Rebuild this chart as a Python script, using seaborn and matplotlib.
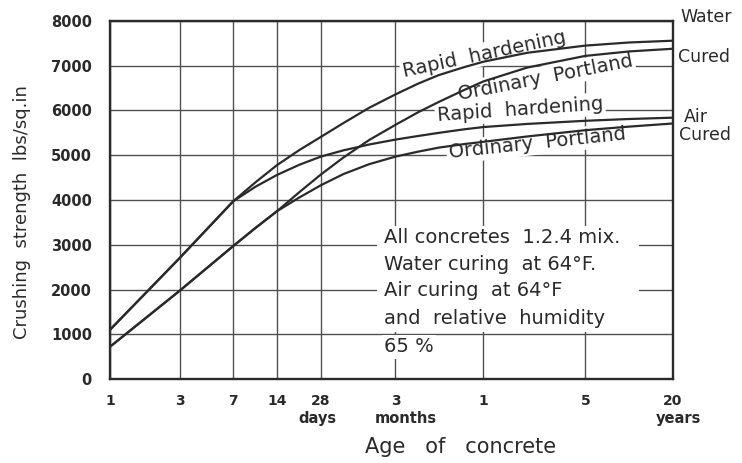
import matplotlib
matplotlib.use('Agg')
import matplotlib.pyplot as plt
import matplotlib.transforms as mtransforms
from matplotlib.patches import Rectangle
from matplotlib.ticker import NullLocator
import seaborn as sns

# age in days (1 day ... 20 years) and crushing strength in lbs/sq.in
days = [1, 3, 7, 10, 14, 20, 28, 40, 60, 91, 130, 180, 270, 365, 730, 1825, 3650, 7300]
water_rapid = [1100, 2700, 3970, 4400, 4780, 5120, 5410, 5720, 6060, 6360, 6600, 6790,
               6970, 7090, 7290, 7450, 7520, 7560]
water_ordinary = [720, 1970, 2970, 3380, 3750, 4180, 4570, 4950, 5340, 5680, 5960, 6190,
                  6460, 6650, 6960, 7220, 7320, 7380]
air_rapid = [1100, 2700, 3970, 4300, 4560, 4790, 4970, 5110, 5240, 5350, 5430, 5500,
             5580, 5630, 5700, 5770, 5810, 5840]
air_ordinary = [720, 1970, 2970, 3380, 3750, 4060, 4330, 4580, 4800, 4970, 5080, 5170,
                5250, 5300, 5420, 5560, 5640, 5710]

tick_days = [1, 3, 7, 14, 28, 91, 365, 1825, 7300]
tick_labels = ['1', '3', '7', '14', '28', '3', '1', '5', '20']
strength_ticks = [0, 1000, 2000, 3000, 4000, 5000, 6000, 7000, 8000]

notes = ['All concretes  1.2.4 mix.', 'Water curing  at 64°F.', 'Air curing  at 64°F',
         'and  relative  humidity', '65 %']

ink = '#2a2a2a'
grid_ink = '#505050'

sns.set_theme(style='white')
plt.rcParams['font.family'] = ['DejaVu Sans']

fig = plt.figure(figsize=(7.42, 4.63), dpi=100)
ax = fig.add_axes([110 / 742, 84 / 463, 563 / 742, 358 / 463])

for values in [water_rapid, water_ordinary, air_rapid, air_ordinary]:
    sns.lineplot(x=days, y=values, ax=ax, color=ink, linewidth=1.6, zorder=3)

ax.set_xscale('log')
ax.set_xlim(1, 7300)
ax.set_ylim(0, 8000)
ax.set_xticks(tick_days)
ax.set_xticklabels(tick_labels, fontsize=10, fontweight='bold', color=ink)
ax.xaxis.set_minor_locator(NullLocator())
ax.set_yticks(strength_ticks)
ax.set_yticklabels([str(v) for v in strength_ticks], fontsize=10.5, fontweight='bold', color=ink)
ax.tick_params(axis='x', length=0, pad=11)
ax.tick_params(axis='y', length=0, pad=13)
ax.grid(True, color=grid_ink, linewidth=1.0)
ax.set_axisbelow(True)
for sp in ax.spines.values():
    sp.set_color(ink)
    sp.set_linewidth(1.7)

# curve labels sitting on the curves, hiding the grid behind them
white = dict(facecolor='white', edgecolor='none', pad=1.5)
lab = dict(ha='center', va='center', rotation_mode='anchor', fontsize=14,
           color=ink, zorder=1.5, bbox=white)
ax.text(369, 7260, 'Rapid  hardening', rotation=12, **lab)
ax.text(968, 6740, 'Ordinary  Portland', rotation=11, **lab)
ax.text(652, 6020, 'Rapid  hardening', rotation=4, **lab)
ax.text(852, 5270, 'Ordinary  Portland', rotation=6, **lab)

# notes block
ax.add_patch(Rectangle((0.474, 0.131), 0.465, 0.296, transform=ax.transAxes,
                       facecolor='white', edgecolor='none', zorder=1))
note_y = [238, 264, 290, 318, 347]
for txt, py in zip(notes, note_y):
    ax.text((384 - 110) / 563, (379 - py) / 358, txt, transform=ax.transAxes,
            ha='left', va='center', fontsize=14, color=ink, zorder=1.5, bbox=white)

# unit words under the ticks
trans = mtransforms.blended_transform_factory(ax.transData, ax.transAxes)
for x, word in [(26.5, 'days'), (107, 'months'), (7900, 'years')]:
    ax.text(x, -0.109, word, transform=trans, ha='center', va='center',
            fontsize=10.5, fontweight='bold', color=ink, clip_on=False)

# right hand labels
for x, y, word in [(680, 17, 'Water'), (678, 57, 'Cured'), (684, 117, 'Air'), (679, 135, 'Cured')]:
    fig.text(x / 742, 1 - y / 463, word, ha='left', va='center', fontsize=12.5, color=ink)

fig.text(461 / 742, 1 - 447 / 463, 'Age   of   concrete', ha='center', va='center',
         fontsize=15, color=ink)
fig.text(22 / 742, 1 - 212 / 463, 'Crushing  strength  lbs/sq.in', ha='center', va='center',
         rotation=90, fontsize=13, color=ink)

fig.savefig('out.png', dpi=100, facecolor='white')
